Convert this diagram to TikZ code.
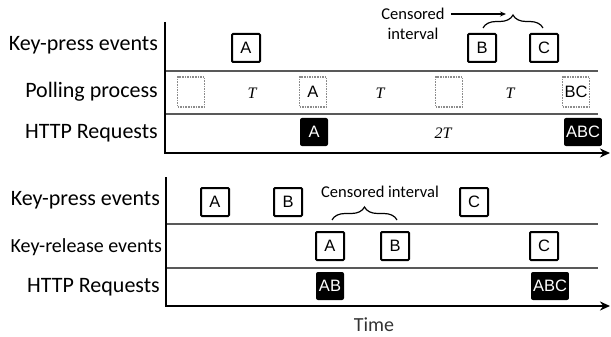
\documentclass[tikz,border=0pt]{standalone}
\usepackage{fontspec}
\setmainfont{Carlito}
\newfontfamily\boxfont{Liberation Sans}
\newfontfamily\serifT{Liberation Serif}
\usetikzlibrary{arrows.meta,decorations.pathreplacing}

\begin{document}
\begin{tikzpicture}[x=1pt,y=-1pt,
  lbl/.style={anchor=east, inner sep=0pt, font=\fontsize{22}{25}\selectfont},
  lblsmall/.style={anchor=east, inner sep=0pt, font=\fontsize{20}{23}\selectfont},
  keybox/.style={draw, line width=2pt, rounded corners=1pt, minimum width=28pt,
    minimum height=28pt, inner sep=0pt, font=\boxfont\fontsize{16.5}{18}\selectfont},
  pollbox/.style={draw=black!45, densely dotted, line width=1.6pt, minimum width=27pt,
    minimum height=30pt, inner sep=0pt, font=\boxfont\fontsize{16.5}{18}\selectfont},
  reqbox/.style={fill=black, text=white, rounded corners=2pt, minimum width=28pt,
    minimum height=28pt, inner xsep=2pt, inner ysep=0pt, font=\boxfont\fontsize{16.5}{18}\selectfont},
  period/.style={inner sep=0pt, font=\serifT\itshape\fontsize{16}{18}\selectfont},
  note/.style={inner sep=0pt, font=\fontsize{16.5}{18}\selectfont},
  sep/.style={draw=black!65, line width=1.2pt},
  axis/.style={line width=2pt},
  bracket/.style={decorate, decoration={brace, amplitude=13pt}, line width=1.2pt}]
\useasboundingbox (0,0) rectangle (611,337);

% ---------- upper panel: polling ----------
\coordinate (t0) at (165,22);
\coordinate (t1) at (165,153);
\coordinate (tend) at (610,153);
\coordinate (s1a) at (165,71);  \coordinate (s1b) at (598,71);
\coordinate (s2a) at (165,114); \coordinate (s2b) at (598,114);
\draw[sep] (s1a) -- (s1b);
\draw[sep] (s2a) -- (s2b);
\draw[axis, -{Stealth[length=10pt,width=9pt]}] (t0) -- (t1) -- (tend);

\node[lbl] (l1) at (158,45) {Key-press events};
\node[lbl] (l2) at (158,92) {Polling process};
\node[lbl] (l3) at (158,133) {HTTP Requests};

\node[keybox] (kA) at (246,48) {A};
\node[keybox] (kB) at (482,48) {B};
\node[keybox] (kC) at (544,48) {C};

\node[pollbox] (p1) at (191,92) {};
\node[pollbox] (p2) at (313,92) {A};
\node[pollbox] (p3) at (449,92) {};
\node[pollbox] (p4) at (576,92) {BC};
\node[period] (T1) at (252,93) {T};
\node[period] (T2) at (380,93) {T};
\node[period] (T3) at (510,93) {T};

\node[reqbox] (rA) at (314,132) {A};
\node[reqbox] (rABC) at (583,132) {ABC};
\node[period] (T4) at (443,133) {2T};

\node[note] (cA) at (413,14) {Censored};
\node[note] (cB) at (413,34) {interval};
\coordinate (b1a) at (483,28);
\coordinate (b1b) at (543,28);
\coordinate (b1tip) at (506,14);
\draw[bracket] (b1a) -- (b1b);
\draw[line width=1.2pt, -{Stealth[length=6pt,width=5pt]}] (cA.east) ++(6pt,0) -- (b1tip);

% ---------- lower panel: key press / release ----------
\coordinate (u0) at (166,177);
\coordinate (u1) at (166,306);
\coordinate (uend) at (610,306);
\coordinate (s3a) at (166,224); \coordinate (s3b) at (598,224);
\coordinate (s4a) at (166,268); \coordinate (s4b) at (598,268);
\draw[sep] (s3a) -- (s3b);
\draw[sep] (s4a) -- (s4b);
\draw[axis, -{Stealth[length=10pt,width=9pt]}] (u0) -- (u1) -- (uend);

\node[lbl] (m1) at (160,200) {Key-press events};
\node[lblsmall] (m2) at (162,247) {Key-release events};
\node[lbl] (m3) at (160,287) {HTTP Requests};

\node[keybox] (dA) at (215,202) {A};
\node[keybox] (dB) at (288,202) {B};
\node[keybox] (dC) at (474,202) {C};
\node[keybox] (uA) at (330,246) {A};
\node[keybox] (uB) at (395,246) {B};
\node[keybox] (uC) at (544,246) {C};
\node[reqbox] (qAB) at (330,286) {AB};
\node[reqbox] (qABC) at (550,286) {ABC};

\node[note] (cint) at (380,192) {Censored interval};
\coordinate (b2a) at (332,220);
\coordinate (b2b) at (397,220);
\draw[bracket] (b2a) -- (b2b);

\node[inner sep=0pt, text=black!80, font=\fontsize{20}{24}\selectfont] (time) at (374,325) {Time};
\end{tikzpicture}
\end{document}
